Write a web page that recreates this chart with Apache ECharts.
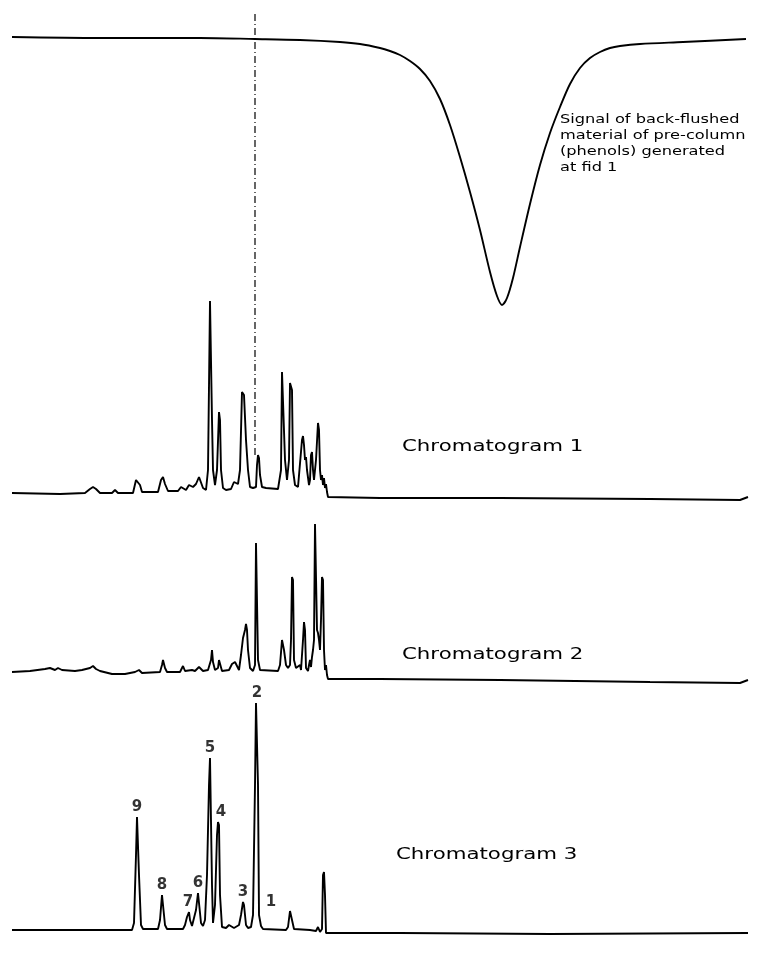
<!DOCTYPE html>
<html>
<head>
<meta charset="utf-8">
<script src="https://cdn.jsdelivr.net/npm/echarts@6/dist/echarts.min.js"></script>
<style>
html,body{margin:0;padding:0;background:#fff;}
#chart{width:761px;height:955px;}
</style>
</head>
<body>
<div id="chart"></div>
<script>
// ---- data (x: retention position, arbitrary units; y: detector signal, arbitrary units) ----
const signalX = [12,100,200,255,300,340,360,380,390,400,410,420,430,440,450,460,470,480,490,497,502,507,513,520,530,540,550,560,570,580,590,600,610,620,640,683,746];
const signalY = [3,2,2,1,0,-2,-4,-8,-11,-15,-21,-29,-41,-59,-85,-117,-152,-190,-232,-256,-265,-258,-238,-207,-164,-125,-93,-67,-44,-28,-18,-12,-8,-6,-4,-2,1];

const chrom1X = [12,60,85,90,93,96,100,112,115,118,133,136,138,140,142,158,161,163,165,168,178,181,183,186,189,191,193,196,199,201,203,206,208,210,211,212,213,215,217,219,220,221,223,226,231,234,236,238,240,242,244,246,248,250,253,256,257,258,259,260,262,266,278,281,282,284,285,287,289,290,292,293,295,298,300,302,303,304,305,306,307,309,310,311,312,313,314,315,316,318,319,320,321,322,323,324,325,326,327,328,380,500,650,740,748];
const chrom1Y = [7,6,7,11,13,11,7,7,10,7,7,20,22,15,8,8,20,23,16,9,9,13,13,10,15,17,13,16,23,22,12,10,30,199,199,80,30,15,30,88,80,30,12,10,11,18,20,16,30,108,105,60,30,13,12,13,35,45,42,25,13,12,11,30,128,126,40,20,40,117,110,30,15,13,15,60,64,55,40,43,30,15,20,45,48,30,20,30,40,77,70,30,20,25,15,22,12,16,8,3,2,2,1,0,3];

const chrom2X = [12,30,45,50,55,58,62,75,82,90,93,96,100,112,125,135,139,142,160,162,163,165,167,180,183,185,192,195,199,201,203,208,211,212,213,215,218,219,220,222,229,232,235,237,239,241,243,244,245,246,247,248,250,253,255,256,257,258,260,262,278,280,282,283,284,286,288,290,291,292,293,294,296,298,300,301,302,303,304,305,306,308,309,310,311,312,313,314,315,316,317,318,319,320,321,322,323,324,325,326,327,328,380,500,650,740,748];
const chrom2Y = [13,14,16,17,15,17,15,14,15,17,19,16,14,11,11,13,15,12,13,20,25,17,13,13,19,14,15,14,18,17,14,15,25,35,23,15,17,25,23,14,15,21,23,19,15,30,47,45,55,61,55,35,17,14,20,142,140,25,15,13,14,20,45,47,35,20,17,20,45,108,105,25,17,15,20,15,17,45,63,55,17,14,20,25,18,28,35,45,161,159,55,52,45,35,65,108,105,35,15,20,10,6,6,5,3,2,5];

const chrom3X = [12,100,132,134,136,137,138,139,141,143,158,160,162,163,165,167,183,185,187,189,190,192,194,196,198,199,201,203,205,207,209,210,211,212,213,214,215,217,218,219,220,222,226,229,231,234,236,239,241,243,244,246,248,251,253,255,256,257,258,259,261,262,263,286,288,290,291,292,294,310,316,318,320,322,323,324,325,326,400,550,748];
const chrom3Y = [5,5,5,12,80,118,117,60,10,6,6,15,40,38,10,6,6,10,18,23,15,9,10,25,42,40,12,9,15,60,150,177,175,50,12,10,30,100,113,110,40,8,7,10,8,7,9,10,20,33,30,10,7,8,20,150,232,232,150,20,9,9,6,5,8,24,25,15,6,5,4,8,3,6,60,63,40,2,2,1,2];

// numbered peaks of chromatogram 3: name, position, apex height
const peakNames  = ['9','8','7','6','5','4','3','2','1'];
const peakX      = [137,162,188,198,210,219,243,257,262];
const peakHeight = [118,40,23,42,177,113,33,232,9];

const markerX = 255;                 // dash-dot marker position
const markerRange = [45, 488];       // chromatogram-1 signal units

const signalText = ['Signal of back-flushed','material of pre-column','(phenols) generated','at fid 1'];
const chromTitles = ['Chromatogram 1','Chromatogram 2','Chromatogram 3'];

// ---- chart ----
const zip = (xs, ys) => xs.map((x, i) => [x, ys[i]]);
const chart = echarts.init(document.getElementById('chart'), null, {renderer:'canvas'});
const ink = '#000';
const lineStyle = {color: ink, width: 1.9};

const grids = [
  {left:0, width:761, top:0,   height:320},
  {left:0, width:761, top:280, height:230},
  {left:0, width:761, top:510, height:180},
  {left:0, width:761, top:690, height:260}
];
const yRanges = [[-280,40],[-10,220],[-5,175],[-15,245]];

const option = {
  backgroundColor:'#fff',
  animation:false,
  grid: grids,
  xAxis: grids.map((g,i)=>({type:'value', gridIndex:i, min:0, max:761, show:false})),
  yAxis: yRanges.map((r,i)=>({type:'value', gridIndex:i, min:r[0], max:r[1], show:false})),
  series: [
    {type:'line', xAxisIndex:0, yAxisIndex:0, data:zip(signalX, signalY), smooth:0.3, showSymbol:false, lineStyle:lineStyle},
    {type:'line', xAxisIndex:1, yAxisIndex:1, data:zip(chrom1X, chrom1Y), showSymbol:false, lineStyle:lineStyle, clip:false},
    {type:'line', xAxisIndex:2, yAxisIndex:2, data:zip(chrom2X, chrom2Y), showSymbol:false, lineStyle:lineStyle, clip:false},
    {type:'line', xAxisIndex:3, yAxisIndex:3, data:zip(chrom3X, chrom3Y), showSymbol:false, lineStyle:lineStyle, clip:false},
    {type:'line', xAxisIndex:1, yAxisIndex:1, clip:false, showSymbol:false,
     data:[[markerX, markerRange[0]],[markerX, markerRange[1]]],
     lineStyle:{color:ink, width:1.2, type:[7,3,1,3]}},
    {type:'scatter', xAxisIndex:3, yAxisIndex:3, symbolSize:0, clip:false,
     data: peakNames.map((n,i)=>({name:n, value:[peakX[i], peakHeight[i]],
        label: n==='1' ? {offset:[9,-14]} : (n==='4' ? {offset:[2,0]} : {})})),
     label:{show:true, position:'top', distance:2, formatter:p=>p.name,
            fontFamily:'DejaVu Sans', fontWeight:'bold', fontSize:15, color:ink}}
  ],
  graphic: [
    ...signalText.map((t,i)=>({type:'text', x:560, y:120+i*16, scaleX:1.35,
       style:{text:t, font:'12px "DejaVu Sans"', fill:ink, textVerticalAlign:'middle'}})),
    ...chromTitles.map((t,i)=>({type:'text', x:[402,402,396][i], y:[447,655,855][i], scaleX:1.42,
       style:{text:t, font:'15px "DejaVu Sans"', fill:ink, textVerticalAlign:'middle'}}))
  ]
};
chart.setOption(option);
</script>
</body>
</html>
